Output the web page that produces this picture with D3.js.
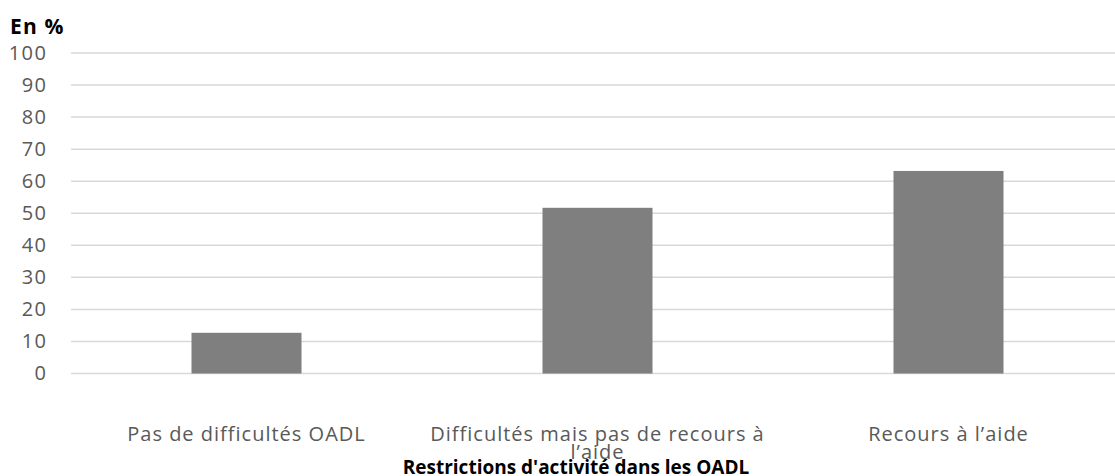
<!DOCTYPE html>
<html>
<head>
<meta charset="utf-8">
<script src="https://cdn.jsdelivr.net/npm/d3@7"></script>
<style>
  body { margin: 0; background: #fff; }
  svg { display: block; font-family: "Open Sans", sans-serif; }
</style>
</head>
<body>
<svg id="chart" width="1115" height="476"></svg>
<script>
const categories = [
  ["Pas de difficultés OADL"],
  ["Difficultés mais pas de recours à", "l\u2019aide"],
  ["Recours à l\u2019aide"]
];
const values = [12.7, 51.7, 63.2];
const yTicks = [0, 10, 20, 30, 40, 50, 60, 70, 80, 90, 100];

const svg = d3.select("#chart"),
    margin = {top: 53, left: 71},
    plotW = 1053,
    plotH = 373.5 - 53;

const g = svg.append("g")
    .attr("transform", "translate(" + margin.left + "," + margin.top + ")");

const x = d3.scaleBand()
    .domain(d3.range(categories.length))
    .range([0, plotW])
    .paddingInner(0.6866)
    .paddingOuter(0.3433);

const y = d3.scaleLinear()
    .domain([0, 100])
    .range([plotH, 0]);

// gridlines
g.selectAll(".grid")
    .data(yTicks)
    .enter().append("line")
    .attr("x1", 0)
    .attr("x2", plotW)
    .attr("y1", d => y(d))
    .attr("y2", d => y(d))
    .attr("stroke", "#d9d9d9")
    .attr("stroke-width", 1.5);

// y axis labels
const yAxis = g.append("g")
    .call(d3.axisLeft(y).tickValues(yTicks).tickSize(0).tickPadding(23.5));
yAxis.select(".domain").remove();
yAxis.selectAll("text")
    .attr("fill", "#595959")
    .attr("font-size", "20px")
    .attr("letter-spacing", "1.5px")
    .attr("font-family", "'Open Sans', sans-serif");

// bars
g.selectAll(".bar")
    .data(values)
    .enter().append("rect")
    .attr("class", "bar")
    .attr("x", (d, i) => x(i))
    .attr("y", d => y(d))
    .attr("width", x.bandwidth())
    .attr("height", d => plotH - y(d))
    .attr("fill", "#7f7f7f");

// x labels
const labels = g.selectAll(".xlab")
    .data(categories)
    .enter().append("text")
    .attr("class", "xlab")
    .attr("text-anchor", "middle")
    .attr("fill", "#595959")
    .attr("font-size", "20px")
    .attr("letter-spacing", "1px");
labels.each(function(lines, i) {
  d3.select(this).selectAll("tspan")
    .data(lines)
    .enter().append("tspan")
    .attr("x", x(i) + x.bandwidth() / 2)
    .attr("y", (d, j) => plotH + 67.5 + j * 18)
    .text(d => d);
});

// y title
svg.append("text")
    .attr("x", 10)
    .attr("y", 34)
    .attr("font-size", "21px")
    .attr("font-weight", "bold")
    .attr("letter-spacing", "1.2px")
    .attr("fill", "#000")
    .text("En %");

// x title
svg.append("text")
    .attr("x", 576)
    .attr("y", 474)
    .attr("text-anchor", "middle")
    .attr("font-size", "19px")
    .attr("font-weight", "bold")
    .attr("fill", "#000")
    .text("Restrictions d'activité dans les OADL");
</script>
</body>
</html>
